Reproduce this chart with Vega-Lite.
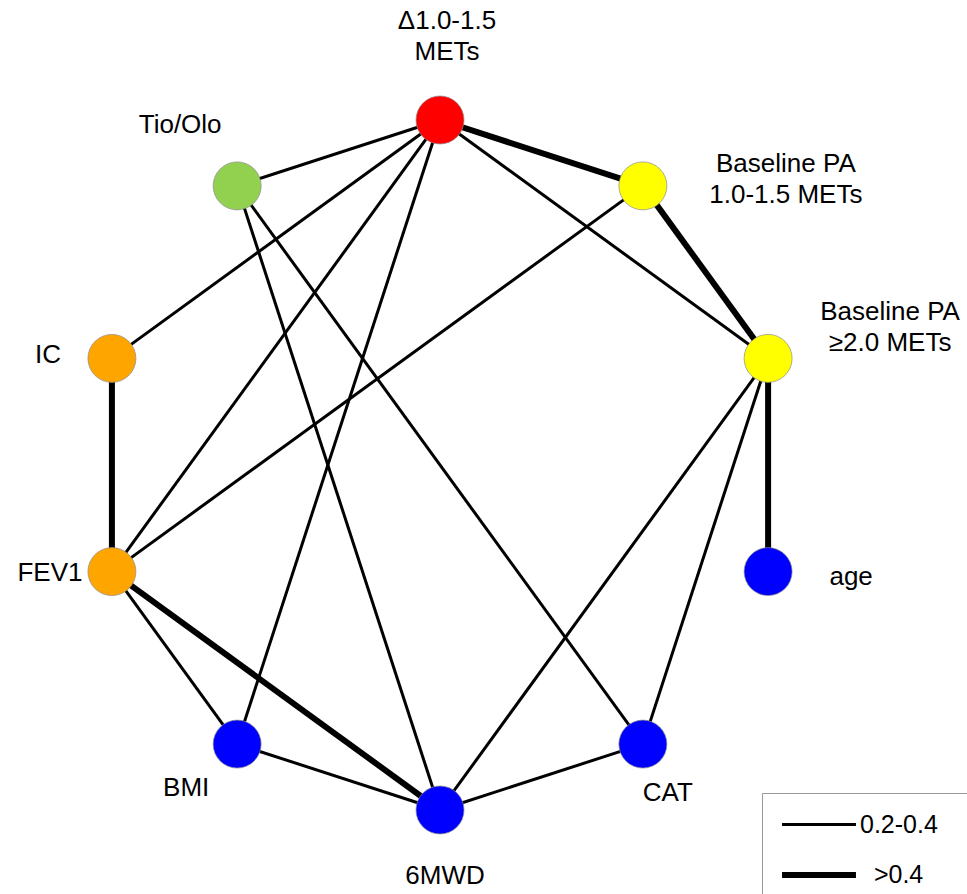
{
  "$schema": "https://vega.github.io/schema/vega-lite/v6.json",
  "width": 967,
  "height": 894,
  "padding": 0,
  "autosize": "none",
  "background": "white",
  "config": {"view": {"stroke": null}, "font": "Liberation Sans"},
  "datasets": {
    "nodes": [
      {"id": "D", "label": "Δ1.0-1.5\nMETs", "group": "Change in PA", "x": 0, "y": 1},
      {"id": "B1", "label": "Baseline PA\n1.0-1.5 METs", "group": "Baseline PA", "x": 0.588, "y": 0.809},
      {"id": "B2", "label": "Baseline PA\n≥2.0 METs", "group": "Baseline PA", "x": 0.951, "y": 0.309},
      {"id": "age", "label": "age", "group": "Clinical", "x": 0.951, "y": -0.309},
      {"id": "CAT", "label": "CAT", "group": "Clinical", "x": 0.588, "y": -0.809},
      {"id": "6MWD", "label": "6MWD", "group": "Clinical", "x": 0, "y": -1},
      {"id": "BMI", "label": "BMI", "group": "Clinical", "x": -0.588, "y": -0.809},
      {"id": "FEV1", "label": "FEV1", "group": "Lung function", "x": -0.951, "y": -0.309},
      {"id": "IC", "label": "IC", "group": "Lung function", "x": -0.951, "y": 0.309},
      {"id": "Tio", "label": "Tio/Olo", "group": "Treatment", "x": -0.588, "y": 0.809}
    ],
    "edges": [
      {"source": "D", "target": "B1", "weight": ">0.4"},
      {"source": "B1", "target": "B2", "weight": ">0.4"},
      {"source": "B2", "target": "age", "weight": ">0.4"},
      {"source": "IC", "target": "FEV1", "weight": ">0.4"},
      {"source": "FEV1", "target": "6MWD", "weight": ">0.4"},
      {"source": "D", "target": "Tio", "weight": "0.2-0.4"},
      {"source": "D", "target": "IC", "weight": "0.2-0.4"},
      {"source": "D", "target": "FEV1", "weight": "0.2-0.4"},
      {"source": "D", "target": "BMI", "weight": "0.2-0.4"},
      {"source": "D", "target": "B2", "weight": "0.2-0.4"},
      {"source": "Tio", "target": "6MWD", "weight": "0.2-0.4"},
      {"source": "Tio", "target": "CAT", "weight": "0.2-0.4"},
      {"source": "B1", "target": "FEV1", "weight": "0.2-0.4"},
      {"source": "B2", "target": "6MWD", "weight": "0.2-0.4"},
      {"source": "B2", "target": "CAT", "weight": "0.2-0.4"},
      {"source": "FEV1", "target": "BMI", "weight": "0.2-0.4"},
      {"source": "BMI", "target": "6MWD", "weight": "0.2-0.4"},
      {"source": "6MWD", "target": "CAT", "weight": "0.2-0.4"}
    ]
  },
  "layer": [
    {
      "data": {"name": "edges"},
      "transform": [
        {"lookup": "source", "from": {"data": {"name": "nodes"}, "key": "id", "fields": ["x", "y"]}, "as": ["sx", "sy"]},
        {"lookup": "target", "from": {"data": {"name": "nodes"}, "key": "id", "fields": ["x", "y"]}, "as": ["tx", "ty"]}
      ],
      "mark": {"type": "rule", "color": "black", "strokeCap": "butt"},
      "encoding": {
        "x": {"field": "sx", "type": "quantitative", "scale": {"domain": [-1.2754, 1.5275], "nice": false, "zero": false}, "axis": null},
        "y": {"field": "sy", "type": "quantitative", "scale": {"domain": [-1.2435, 1.3478], "nice": false, "zero": false}, "axis": null},
        "x2": {"field": "tx"},
        "y2": {"field": "ty"},
        "strokeWidth": {
          "field": "weight",
          "type": "nominal",
          "scale": {"domain": ["0.2-0.4", ">0.4"], "range": [3, 6]},
          "legend": {
            "orient": "none",
            "legendX": 762,
            "legendY": 793,
            "title": null,
            "symbolType": "M-3.08,0H3.08",
            "symbolSize": 576,
            "symbolStrokeColor": "black",
            "labelFontSize": 25,
            "labelFont": "Liberation Sans",
            "labelColor": "black",
            "labelLimit": 300,
            "labelExpr": "datum.label === '>0.4' ? '\u200b\u00a0\u00a0>0.4\u00a0\u00a0\u00a0\u00a0\u00a0\u200b' : datum.label + '\u00a0\u00a0\u00a0\u200b'",
            "padding": 18,
            "rowPadding": 22,
            "symbolOffset": 24,
            "labelOffset": 26,
            "strokeColor": "#999999"
          }
        }
      }
    },
    {
      "data": {"name": "nodes"},
      "mark": {"type": "circle", "size": 2304, "opacity": 1, "stroke": "#8c8c8c", "strokeWidth": 1, "strokeOpacity": 0.7},
      "encoding": {
        "x": {"field": "x", "type": "quantitative"},
        "y": {"field": "y", "type": "quantitative"},
        "color": {
          "field": "group",
          "type": "nominal",
          "scale": {"domain": ["Change in PA", "Baseline PA", "Clinical", "Lung function", "Treatment"], "range": ["#ff0000", "#ffff00", "#0000ff", "#ffa500", "#92d050"]},
          "legend": null
        }
      }
    },
    {
      "data": {"name": "nodes"},
      "transform": [{"filter": "datum.id === 'D'"}],
      "mark": {"type": "text", "fontSize": 26, "lineBreak": "\n", "lineHeight": 31, "align": "center", "baseline": "middle", "dx": 7, "dy": -99, "color": "black"},
      "encoding": {"x": {"field": "x", "type": "quantitative"}, "y": {"field": "y", "type": "quantitative"}, "text": {"field": "label"}}
    },
    {
      "data": {"name": "nodes"},
      "transform": [{"filter": "datum.id === 'B1'"}],
      "mark": {"type": "text", "fontSize": 26, "lineBreak": "\n", "lineHeight": 31, "align": "center", "baseline": "middle", "dx": 143, "dy": -22, "color": "black"},
      "encoding": {"x": {"field": "x", "type": "quantitative"}, "y": {"field": "y", "type": "quantitative"}, "text": {"field": "label"}}
    },
    {
      "data": {"name": "nodes"},
      "transform": [{"filter": "datum.id === 'B2'"}],
      "mark": {"type": "text", "fontSize": 26, "lineBreak": "\n", "lineHeight": 31, "align": "center", "baseline": "middle", "dx": 122, "dy": -46, "color": "black"},
      "encoding": {"x": {"field": "x", "type": "quantitative"}, "y": {"field": "y", "type": "quantitative"}, "text": {"field": "label"}}
    },
    {
      "data": {"name": "nodes"},
      "transform": [{"filter": "datum.id === 'age'"}],
      "mark": {"type": "text", "fontSize": 26, "align": "center", "baseline": "middle", "dx": 83, "dy": 5, "color": "black"},
      "encoding": {"x": {"field": "x", "type": "quantitative"}, "y": {"field": "y", "type": "quantitative"}, "text": {"field": "label"}}
    },
    {
      "data": {"name": "nodes"},
      "transform": [{"filter": "datum.id === 'CAT'"}],
      "mark": {"type": "text", "fontSize": 26, "align": "center", "baseline": "middle", "dx": 25, "dy": 49, "color": "black"},
      "encoding": {"x": {"field": "x", "type": "quantitative"}, "y": {"field": "y", "type": "quantitative"}, "text": {"field": "label"}}
    },
    {
      "data": {"name": "nodes"},
      "transform": [{"filter": "datum.id === '6MWD'"}],
      "mark": {"type": "text", "fontSize": 26, "align": "center", "baseline": "middle", "dx": 5, "dy": 66, "color": "black"},
      "encoding": {"x": {"field": "x", "type": "quantitative"}, "y": {"field": "y", "type": "quantitative"}, "text": {"field": "label"}}
    },
    {
      "data": {"name": "nodes"},
      "transform": [{"filter": "datum.id === 'BMI'"}],
      "mark": {"type": "text", "fontSize": 26, "align": "center", "baseline": "middle", "dx": -51, "dy": 44, "color": "black"},
      "encoding": {"x": {"field": "x", "type": "quantitative"}, "y": {"field": "y", "type": "quantitative"}, "text": {"field": "label"}}
    },
    {
      "data": {"name": "nodes"},
      "transform": [{"filter": "datum.id === 'FEV1'"}],
      "mark": {"type": "text", "fontSize": 26, "align": "center", "baseline": "middle", "dx": -62, "dy": 1, "color": "black"},
      "encoding": {"x": {"field": "x", "type": "quantitative"}, "y": {"field": "y", "type": "quantitative"}, "text": {"field": "label"}}
    },
    {
      "data": {"name": "nodes"},
      "transform": [{"filter": "datum.id === 'IC'"}],
      "mark": {"type": "text", "fontSize": 26, "align": "center", "baseline": "middle", "dx": -64, "dy": -3, "color": "black"},
      "encoding": {"x": {"field": "x", "type": "quantitative"}, "y": {"field": "y", "type": "quantitative"}, "text": {"field": "label"}}
    },
    {
      "data": {"name": "nodes"},
      "transform": [{"filter": "datum.id === 'Tio'"}],
      "mark": {"type": "text", "fontSize": 26, "align": "center", "baseline": "middle", "dx": -57, "dy": -61, "color": "black"},
      "encoding": {"x": {"field": "x", "type": "quantitative"}, "y": {"field": "y", "type": "quantitative"}, "text": {"field": "label"}}
    }
  ]
}
